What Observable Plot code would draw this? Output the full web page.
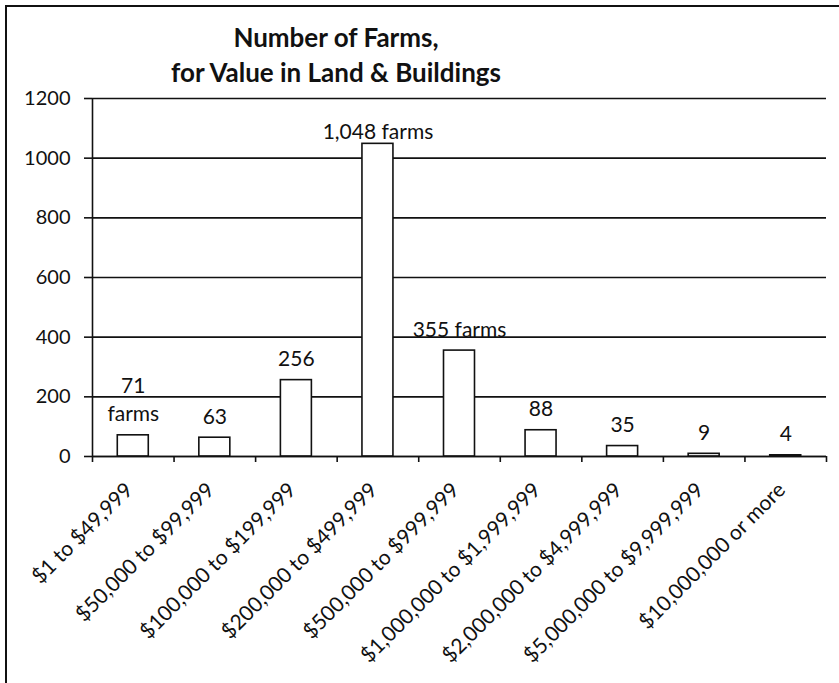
<!DOCTYPE html>
<html>
<head>
<meta charset="utf-8">
<script src="https://cdn.jsdelivr.net/npm/d3@7"></script>
<script src="https://cdn.jsdelivr.net/npm/@observablehq/plot@0.6"></script>
<style>
  html, body { margin: 0; padding: 0; background: white; }
  #wrap { position: relative; width: 839px; height: 683px; overflow: hidden; font-family: Lato, "Open Sans", sans-serif; }
  #frame { position: absolute; left: 5px; top: 5px; width: 900px; height: 800px; border-top: 2px solid #111; border-left: 2px solid #111; box-sizing: border-box; pointer-events: none; }
  #title { position: absolute; left: 36px; width: 600px; top: 20px; text-align: center; font-weight: bold; font-size: 26px; line-height: 35px; color: #111; }
  #chart { position: absolute; left: 0; top: 0; }
</style>
</head>
<body>
<div id="wrap">
  <div id="chart"></div>
  <div id="frame"></div>
  <div id="title">Number of Farms,<br>for Value in Land &amp; Buildings</div>
</div>
<script>
const categories = [
  "$1 to $49,999",
  "$50,000 to $99,999",
  "$100,000 to $199,999",
  "$200,000 to $499,999",
  "$500,000 to $999,999",
  "$1,000,000 to $1,999,999",
  "$2,000,000 to $4,999,999",
  "$5,000,000 to $9,999,999",
  "$10,000,000 or more"
];
const farms = [71, 63, 256, 1048, 355, 88, 35, 9, 4];
const valueLabels = ["71\nfarms", "63", "256", "1,048 farms", "355 farms", "88", "35", "9", "4"];
const yTicks = [0, 200, 400, 600, 800, 1000, 1200];

const data = categories.map((cat, i) => ({ i, cat, value: farms[i], label: valueLabels[i] }));
const peak = d3.max(farms);

const chart = Plot.plot({
  width: 839,
  height: 683,
  marginLeft: 92,
  marginRight: 13,
  marginTop: 98,
  marginBottom: 227,
  x: { domain: [0, categories.length], axis: null },
  y: { domain: [0, 1200], axis: null },
  style: { fontFamily: "Lato, 'Open Sans', sans-serif", fontSize: "20px", color: "#111", background: "transparent" },
  marks: [
    Plot.gridY(yTicks, { stroke: "#111", strokeOpacity: 1, strokeWidth: 1.6 }),
    Plot.rectY(data, {
      x1: d => d.i + 0.31,
      x2: d => d.i + 0.69,
      y: "value",
      fill: "white",
      stroke: "#111",
      strokeWidth: 1.6
    }),
    Plot.ruleX([0], { stroke: "#111", strokeWidth: 1.6 }),
    Plot.ruleY([0], { stroke: "#111", strokeWidth: 1.6 }),
    Plot.axisY({
      ticks: yTicks,
      tickSize: 8,
      tickPadding: 14,
      tickFormat: d => String(d),
      label: null,
      fontSize: 20,
      stroke: "#111",
      strokeWidth: 1.6
    }),
    Plot.axisX({
      ticks: d3.range(categories.length + 1),
      tickSize: 6,
      tickFormat: () => "",
      label: null,
      stroke: "#111",
      strokeWidth: 1.6
    }),
    Plot.text(data.filter(d => d.value !== peak), {
      x: d => d.i + 0.5,
      y: "value",
      text: "label",
      lineAnchor: "bottom",
      lineHeight: 1.35,
      dy: -14,
      fontSize: 21,
      fill: "#111"
    }),
    Plot.text(data.filter(d => d.value === peak), {
      x: d => d.i + 0.5,
      y: "value",
      text: "label",
      lineAnchor: "bottom",
      dy: -5,
      fontSize: 21,
      fill: "#111"
    }),
    Plot.text(data, {
      x: d => d.i + 0.5,
      frameAnchor: "bottom",
      text: "cat",
      rotate: -45,
      textAnchor: "end",
      lineAnchor: "middle",
      dx: -4,
      dy: 30,
      fontSize: 21,
      fill: "#111"
    })
  ]
});
document.getElementById("chart").appendChild(chart);
</script>
</body>
</html>
